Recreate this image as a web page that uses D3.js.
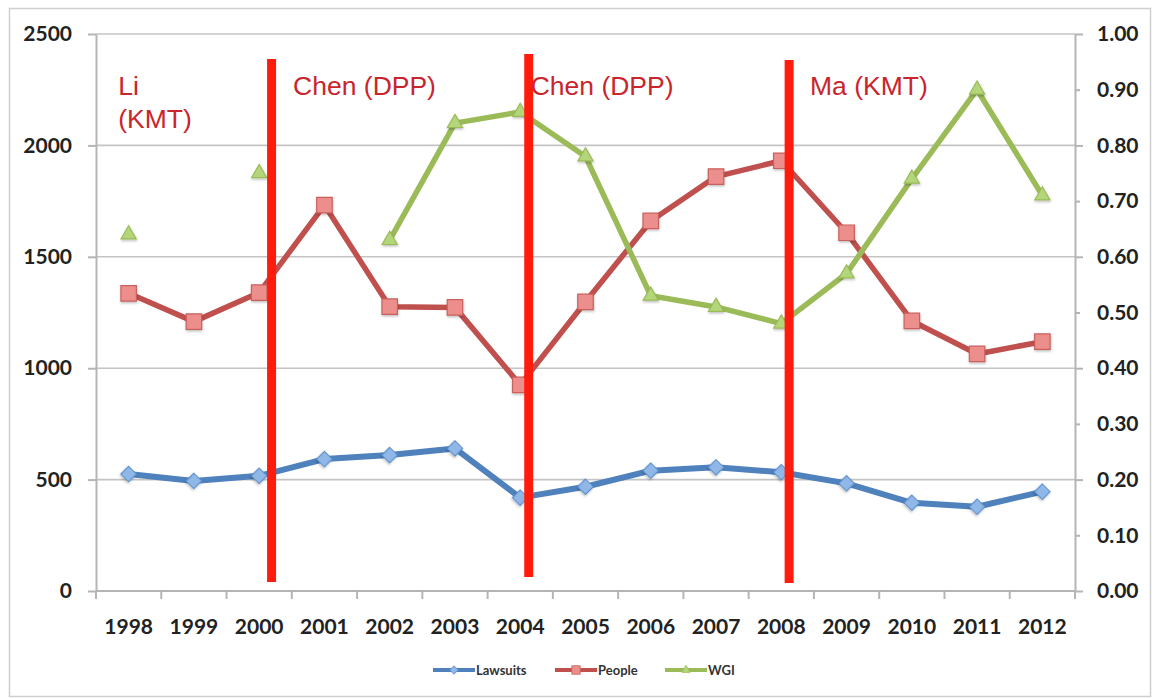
<!DOCTYPE html>
<html>
<head>
<meta charset="utf-8">
<script src="https://cdn.jsdelivr.net/npm/d3@7"></script>
<style>
  html, body { margin: 0; padding: 0; background: #fff; }
  svg { display: block; }
  .tick text { font-family: Lato, "Open Sans", sans-serif; font-weight: bold; fill: #222; }
</style>
</head>
<body>
<svg id="chart" width="1156" height="698"></svg>
<script>
// ---- data ----
const years    = [1998, 1999, 2000, 2001, 2002, 2003, 2004, 2005, 2006, 2007, 2008, 2009, 2010, 2011, 2012];
const lawsuits = [525, 494, 517, 592, 610, 640, 419, 468, 540, 555, 533, 483, 396, 378, 446];
const people   = [1336, 1209, 1339, 1732, 1276, 1273, 925, 1298, 1661, 1860, 1931, 1608, 1212, 1064, 1119];
const wgi      = [0.64, null, 0.75, null, 0.63, 0.84, 0.86, 0.78, 0.53, 0.51, 0.48, 0.57, 0.74, 0.90, 0.71];

const leftTicks  = [0, 500, 1000, 1500, 2000, 2500];
const rightTicks = [0, 0.1, 0.2, 0.3, 0.4, 0.5, 0.6, 0.7, 0.8, 0.9, 1.0];

// change of government, placed on the fractional year axis
const transitions = [2000.19, 2004.13, 2008.12];
const eraLabels = [
  { year: 1997.84, lines: ["Li", "(KMT)"] },
  { year: 2000.52, lines: ["Chen (DPP)"] },
  { year: 2004.16, lines: ["Chen (DPP)"] },
  { year: 2008.44, lines: ["Ma (KMT)"] }
];

// ---- layout ----
const svg = d3.select("#chart");
const plot = { left: 96, right: 1075, top: 34, bottom: 591 };

svg.append("rect")
  .attr("x", 9.5).attr("y", 8.5).attr("width", 1141).attr("height", 688)
  .attr("fill", "#fff").attr("stroke", "#cfcfcf").attr("stroke-width", 1.5);

const x = d3.scaleBand().domain(years).range([plot.left, plot.right]).padding(0);
const xc = d => x(d) + x.bandwidth() / 2;
const xYear = d3.scaleLinear()
  .domain([years[0], years[years.length - 1]])
  .range([xc(years[0]), xc(years[years.length - 1])]);
const yL = d3.scaleLinear().domain([0, 2500]).range([plot.bottom, plot.top]);
const yR = d3.scaleLinear().domain([0, 1]).range([plot.bottom, plot.top]);

// drop shadow for markers
const defs = svg.append("defs");
const f = defs.append("filter").attr("id", "shadow").attr("x", "-50%").attr("y", "-50%").attr("width", "200%").attr("height", "200%");
f.append("feDropShadow").attr("dx", 0.5).attr("dy", 1.5).attr("stdDeviation", 1.2).attr("flood-color", "#000").attr("flood-opacity", 0.25);

// ---- gridlines ----
svg.append("g")
  .selectAll("line").data(leftTicks.filter(d => d > 0)).join("line")
  .attr("x1", plot.left).attr("x2", plot.right)
  .attr("y1", d => yL(d)).attr("y2", d => yL(d))
  .attr("stroke", "#c4c4c4").attr("stroke-width", 1.6);

// ---- axes ----
const axisStyle = g => {
  g.select(".domain").attr("stroke", "#b5b5b5").attr("stroke-width", 2);
  g.selectAll(".tick line").attr("stroke", "#b5b5b5").attr("stroke-width", 2);
};

const gL = svg.append("g").attr("transform", `translate(${plot.left},0)`)
  .call(d3.axisLeft(yL).tickValues(leftTicks).tickSize(8).tickSizeOuter(0).tickPadding(16).tickFormat(d3.format("d")))
  .call(axisStyle);
gL.selectAll(".tick text").attr("font-size", 21);

const gR = svg.append("g").attr("transform", `translate(${plot.right},0)`)
  .call(d3.axisRight(yR).tickValues(rightTicks).tickSize(8).tickSizeOuter(0).tickPadding(14).tickFormat(d3.format(".2f")))
  .call(axisStyle);
gR.selectAll(".tick text").attr("font-size", 21);
gR.selectAll(".tick line").attr("x2", (d, i) => i % 2 === 0 ? 8 : 5);

// x axis: ticks on band boundaries, labels centred in bands
const gX = svg.append("g").attr("transform", `translate(0,${plot.bottom})`);
gX.append("line").attr("x1", plot.left).attr("x2", plot.right).attr("y1", 0).attr("y2", 0)
  .attr("stroke", "#b5b5b5").attr("stroke-width", 2);
gX.selectAll("line.tk").data(years.concat(["end"])).join("line").attr("class", "tk")
  .attr("x1", (d, i) => plot.left + i * x.bandwidth())
  .attr("x2", (d, i) => plot.left + i * x.bandwidth())
  .attr("y1", 0).attr("y2", 8)
  .attr("stroke", "#b5b5b5").attr("stroke-width", 2);
gX.selectAll("text").data(years).join("text")
  .attr("x", d => xc(d)).attr("y", 43)
  .attr("text-anchor", "middle")
  .attr("font-family", "Lato, 'Open Sans', sans-serif").attr("font-weight", "bold")
  .attr("font-size", 21).attr("fill", "#222")
  .text(d => d);

// ---- series ----
const diamond = d3.symbol().type(d3.symbolSquare);
const series = [
  { name: "Lawsuits", values: lawsuits, y: yL, line: "#4f81bd", fill: "#8fb8e8", stroke: "#5d8fcb", marker: d3.symbolSquare, rot: 45, size: 120, width: 6 },
  { name: "People",   values: people,   y: yL, line: "#c0504d", fill: "#ec8f8c", stroke: "#c9605d", marker: d3.symbolSquare, rot: 0, size: 240, width: 5.5 },
  { name: "WGI",      values: wgi,      y: yR, line: "#9bbb59", fill: "#b3d67a", stroke: "#9bbb59", marker: d3.symbolTriangle, rot: 0, size: 100, width: 5.5 }
];

series.forEach(s => {
  const pts = years.map((yr, i) => ({ yr, v: s.values[i] }));
  const line = d3.line().defined(d => d.v != null).x(d => xc(d.yr)).y(d => s.y(d.v));
  svg.append("path").datum(pts)
    .attr("d", line).attr("fill", "none")
    .attr("stroke", s.line).attr("stroke-width", s.width).attr("stroke-linejoin", "round");
  svg.append("g").selectAll("path").data(pts.filter(d => d.v != null)).join("path")
    .attr("transform", d => `translate(${xc(d.yr)},${s.y(d.v)}) rotate(${s.rot})`)
    .attr("d", d3.symbol().type(s.marker).size(s.size))
    .attr("fill", s.fill).attr("stroke", s.stroke).attr("stroke-width", 1.2)
    .attr("filter", "url(#shadow)");
});

// ---- government transitions ----
const tops = [59, 54, 60];
svg.append("g").selectAll("line").data(transitions).join("line")
  .attr("x1", d => xYear(d)).attr("x2", d => xYear(d))
  .attr("y1", (d, i) => tops[i]).attr("y2", (d, i) => tops[i] + 523)
  .attr("stroke", "#ff1c0c").attr("stroke-width", 9);

const lbl = svg.append("g").selectAll("text").data(eraLabels).join("text")
  .attr("x", d => xYear(d.year))
  .attr("y", 95)
  .attr("font-family", "'Liberation Sans', Arial, sans-serif")
  .attr("font-size", 26.5).attr("fill", "#c8252c");
lbl.selectAll("tspan").data(d => d.lines.map(t => ({ t, x: xYear(d.year) }))).join("tspan")
  .attr("x", d => d.x).attr("dy", (d, i) => i === 0 ? 0 : 33)
  .text(d => d.t);

// ---- legend ----
const legend = svg.append("g").attr("transform", "translate(433,670)");
const legendX = [0, 122, 232];
series.forEach((s, i) => {
  const g = legend.append("g").attr("transform", `translate(${legendX[i]},0)`);
  g.append("line").attr("x1", 0).attr("x2", 42).attr("y1", 0).attr("y2", 0)
    .attr("stroke", s.line).attr("stroke-width", 4);
  g.append("path").attr("transform", `translate(21,0) rotate(${s.rot})`)
    .attr("d", d3.symbol().type(s.marker).size(s.size * 0.3))
    .attr("fill", s.fill).attr("stroke", s.stroke).attr("stroke-width", 0.8);
  g.append("text").attr("x", 43).attr("y", 5)
    .attr("font-family", "Lato, 'Open Sans', sans-serif").attr("font-weight", "bold")
    .attr("font-size", 13).attr("fill", "#333")
    .text(s.name);
});
</script>
</body>
</html>
